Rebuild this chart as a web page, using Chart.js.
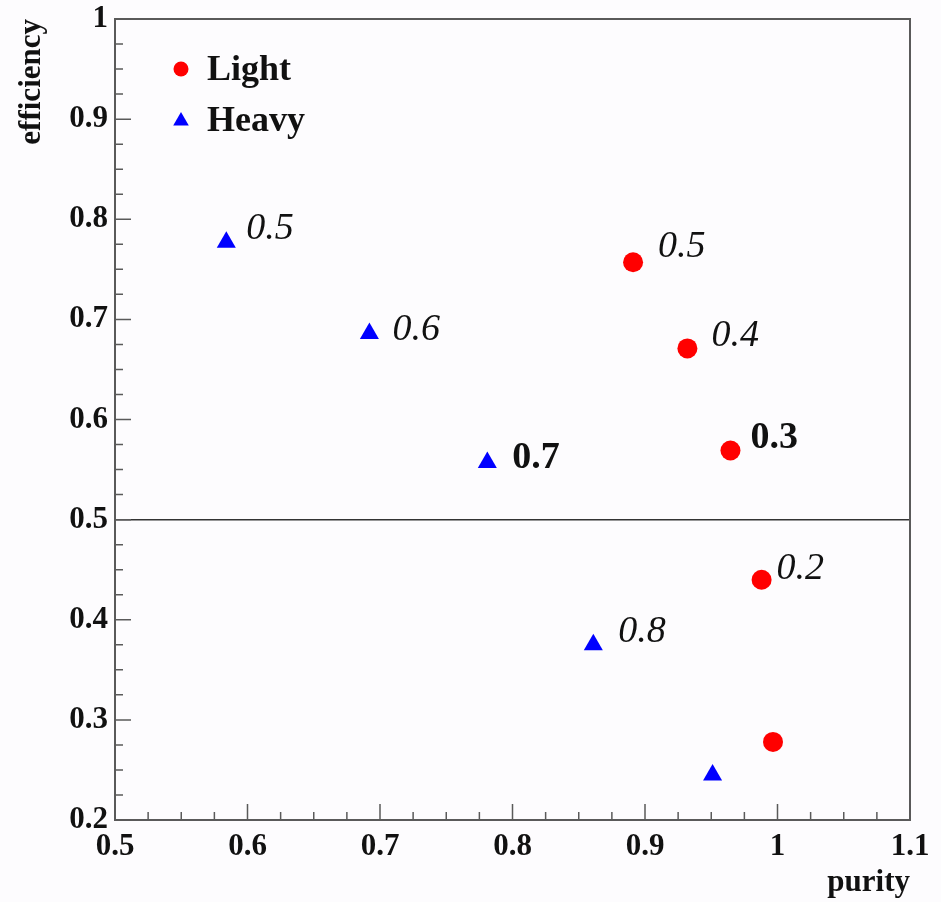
<!DOCTYPE html>
<html>
<head>
<meta charset="utf-8">
<script src="https://cdn.jsdelivr.net/npm/chart.js@4/dist/chart.umd.min.js"></script>
<style>
  html, body { margin: 0; padding: 0; background: #fdfcfe; }
  #wrap { width: 941px; height: 902px; }
</style>
</head>
<body>
<div id="wrap"><canvas id="effPurity" width="941" height="902"></canvas></div>
<script>
// purity / efficiency working points
const purityLight = [0.891, 0.932, 0.9645, 0.988, 0.9966];
const effLight = [0.757, 0.671, 0.569, 0.44, 0.278];
const tagsLight = ['0.5', '0.4', '0.3', '0.2', ''];

const purityHeavy = [0.584, 0.692, 0.781, 0.861, 0.951];
const effHeavy = [0.777, 0.686, 0.557, 0.375, 0.245];
const tagsHeavy = ['0.5', '0.6', '0.7', '0.8', ''];

const seriesNames = ['Light', 'Heavy'];
const refLine = 0.5;

// label styling (bold upright vs italic) and small nudges from the marker
const boldLight = [false, false, true, false, false];
const boldHeavy = [false, false, true, false, false];
const nudgeLight = [[25, -15], [24, -12], [20, -12], [15, -11], [0, 0]];
const nudgeHeavy = [[20, -13], [23, -3], [25, -4], [25, -13], [0, 0]];

const SERIF = '"Liberation Serif", "Times New Roman", serif';
const FRAME = '#5a5a5a';

const toPoints = (xs, ys) => xs.map((x, i) => ({ x: x, y: ys[i] }));
const fmt = v => String(Number(v.toFixed(2)));

// ROOT-like frame, inner ticks, reference line, titles, legend and point tags
const rootStyle = {
  id: 'rootStyle',
  beforeDraw(chart) {
    const ctx = chart.ctx;
    ctx.save();
    ctx.fillStyle = '#fdfcfe';
    ctx.fillRect(0, 0, chart.width, chart.height);
    ctx.restore();
  },
  afterDatasetsDraw(chart) {
    const ctx = chart.ctx;
    const a = chart.chartArea;
    const xs = chart.scales.x, ys = chart.scales.y;
    ctx.save();

    // horizontal line at efficiency 0.5
    const yRef = ys.getPixelForValue(refLine);
    ctx.strokeStyle = '#333';
    ctx.lineWidth = 1.5;
    ctx.beginPath();
    ctx.moveTo(a.left, yRef);
    ctx.lineTo(a.right, yRef);
    ctx.stroke();

    // frame
    ctx.strokeStyle = FRAME;
    ctx.lineWidth = 2;
    ctx.strokeRect(a.left, a.top, a.right - a.left, a.bottom - a.top);

    // inner ticks, 4 subdivisions per major
    ctx.lineWidth = 1.5;
    ctx.beginPath();
    for (let k = 0; k <= 24; k++) {
      const v = xs.min + k * 0.025;
      const px = xs.getPixelForValue(v);
      const len = k % 4 === 0 ? 16 : 8;
      ctx.moveTo(px, a.bottom);
      ctx.lineTo(px, a.bottom - len);
    }
    for (let k = 0; k <= 32; k++) {
      const v = ys.min + k * 0.025;
      const py = ys.getPixelForValue(v);
      const len = k % 4 === 0 ? 16 : 8;
      ctx.moveTo(a.left, py);
      ctx.lineTo(a.left + len, py);
    }
    ctx.stroke();

    // point tags
    const tagSets = [
      { tags: tagsLight, bold: boldLight, nudge: nudgeLight },
      { tags: tagsHeavy, bold: boldHeavy, nudge: nudgeHeavy }
    ];
    ctx.fillStyle = '#111';
    ctx.textAlign = 'left';
    ctx.textBaseline = 'middle';
    tagSets.forEach((set, di) => {
      const meta = chart.getDatasetMeta(di);
      meta.data.forEach((pt, i) => {
        if (!set.tags[i]) return;
        ctx.font = set.bold[i] ? 'bold 38px ' + SERIF : 'italic 38px ' + SERIF;
        ctx.fillText(set.tags[i], pt.x + set.nudge[i][0], pt.y + set.nudge[i][1]);
      });
    });

    // legend
    const ds = chart.data.datasets;
    const legendY = [70, 121];
    ctx.font = 'bold 36px ' + SERIF;
    ds.forEach((d, i) => {
      const cx = 181, cy = legendY[i];
      ctx.fillStyle = d.backgroundColor;
      ctx.beginPath();
      if (d.pointStyle === 'circle') {
        ctx.arc(cx, cy - 1, 7.5, 0, Math.PI * 2);
      } else {
        const r = 9;
        ctx.moveTo(cx, cy - r);
        ctx.lineTo(cx + r * 0.866, cy + r / 2);
        ctx.lineTo(cx - r * 0.866, cy + r / 2);
        ctx.closePath();
      }
      ctx.fill();
      ctx.fillStyle = '#111';
      ctx.textAlign = 'left';
      ctx.textBaseline = 'middle';
      ctx.fillText(d.label, 207, cy + 1);
    });

    // axis titles
    ctx.fillStyle = '#111';
    ctx.font = 'bold 31px ' + SERIF;
    ctx.textAlign = 'right';
    ctx.textBaseline = 'alphabetic';
    ctx.fillText('purity', a.right, 891);
    ctx.save();
    ctx.translate(40, a.top);
    ctx.rotate(-Math.PI / 2);
    ctx.textAlign = 'right';
    ctx.fillText('efficiency', 0, 0);
    ctx.restore();

    ctx.restore();
  }
};

const ctx = document.getElementById('effPurity').getContext('2d');
new Chart(ctx, {
  type: 'scatter',
  data: {
    datasets: [
      {
        label: seriesNames[0],
        data: toPoints(purityLight, effLight),
        pointStyle: 'circle',
        pointRadius: 10,
        pointHoverRadius: 10,
        backgroundColor: '#ff0000',
        borderColor: '#ff0000',
        borderWidth: 0
      },
      {
        label: seriesNames[1],
        data: toPoints(purityHeavy, effHeavy),
        pointStyle: 'triangle',
        pointRadius: 11,
        pointHoverRadius: 11,
        backgroundColor: '#0000ff',
        borderColor: '#0000ff',
        borderWidth: 0
      }
    ]
  },
  options: {
    responsive: false,
    animation: false,
    events: [],
    layout: { padding: { top: 19, right: 31, left: 0, bottom: 0 } },
    plugins: {
      legend: { display: false },
      tooltip: { enabled: false }
    },
    scales: {
      x: {
        type: 'linear',
        min: 0.5,
        max: 1.1,
        grid: { display: false, drawTicks: false },
        border: { display: false },
        ticks: {
          stepSize: 0.1,
          padding: 8,
          color: '#111',
          font: { family: SERIF, size: 31, weight: 'bold' },
          maxRotation: 0,
          autoSkip: false,
          callback: v => fmt(v)
        },
        afterFit: s => { s.height = 82; s.paddingLeft = 0; s.paddingRight = 0; }
      },
      y: {
        type: 'linear',
        min: 0.2,
        max: 1,
        grid: { display: false, drawTicks: false },
        border: { display: false },
        ticks: {
          stepSize: 0.1,
          padding: 7,
          color: '#111',
          font: { family: SERIF, size: 31, weight: 'bold' },
          autoSkip: false,
          callback: v => fmt(v)
        },
        afterFit: s => { s.width = 115; s.paddingTop = 0; s.paddingBottom = 0; }
      }
    }
  },
  plugins: [rootStyle]
});
</script>
</body>
</html>
